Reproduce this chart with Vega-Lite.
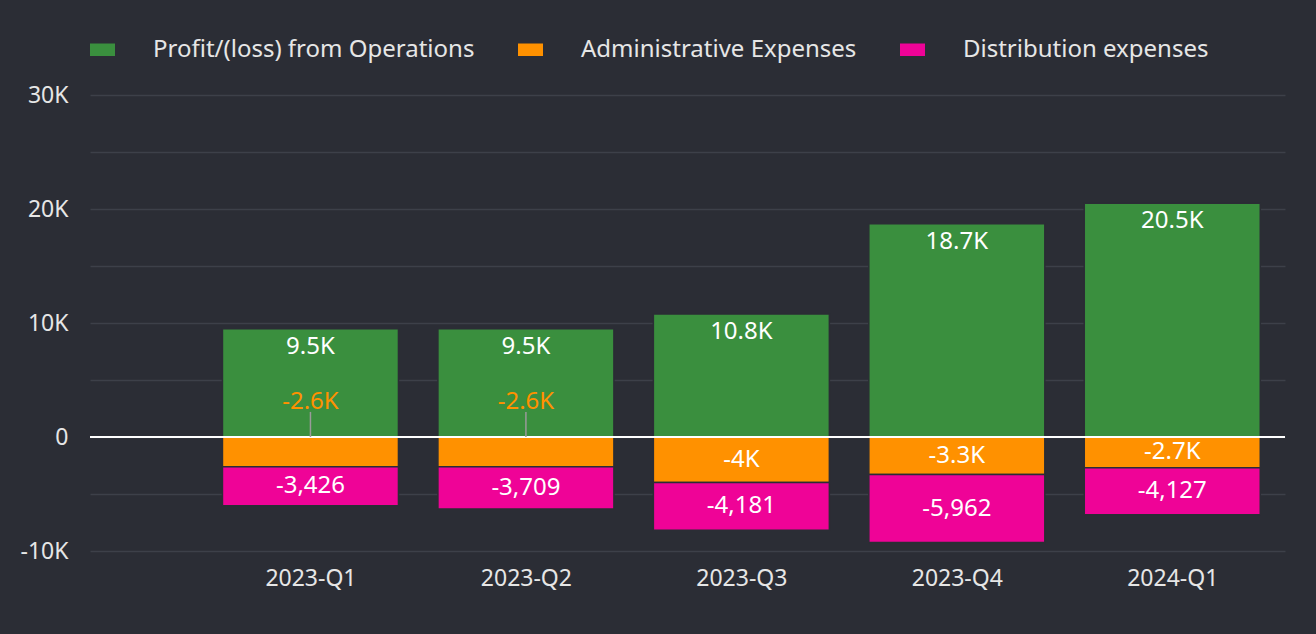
{
  "$schema": "https://vega.github.io/schema/vega-lite/v6.json",
  "width": 1195,
  "height": 456,
  "autosize": "none",
  "padding": {"left": 90, "top": 95, "right": 31, "bottom": 83},
  "background": "#2b2d35",
  "title": {"text": "finstatinsight.com", "orient": "bottom", "anchor": "end", "color": "#b8b8b8", "fontSize": 18, "fontWeight": "normal", "font": "Noto Sans", "offset": 58, "dx": 31},
  "config": {
    "view": {"stroke": null},
    "font": "Noto Sans",
    "axis": {"labelFont": "Noto Sans", "labelColor": "#e6e6e6", "labelFontSize": 23, "domain": false, "ticks": false, "title": null},
    "legend": {"labelFont": "Noto Sans"}
  },
  "data": {
    "values": [
      {"q": "2023-Q1", "i": 1, "series": "Profit/(loss) from Operations", "o": 1, "value": 9500, "label": "9.5K"},
      {"q": "2023-Q1", "i": 1, "series": "Administrative Expenses", "o": 2, "value": -2600, "label": "-2.6K"},
      {"q": "2023-Q1", "i": 1, "series": "Distribution expenses", "o": 3, "value": -3426, "label": "-3,426"},
      {"q": "2023-Q2", "i": 2, "series": "Profit/(loss) from Operations", "o": 1, "value": 9500, "label": "9.5K"},
      {"q": "2023-Q2", "i": 2, "series": "Administrative Expenses", "o": 2, "value": -2600, "label": "-2.6K"},
      {"q": "2023-Q2", "i": 2, "series": "Distribution expenses", "o": 3, "value": -3709, "label": "-3,709"},
      {"q": "2023-Q3", "i": 3, "series": "Profit/(loss) from Operations", "o": 1, "value": 10800, "label": "10.8K"},
      {"q": "2023-Q3", "i": 3, "series": "Administrative Expenses", "o": 2, "value": -4000, "label": "-4K"},
      {"q": "2023-Q3", "i": 3, "series": "Distribution expenses", "o": 3, "value": -4181, "label": "-4,181"},
      {"q": "2023-Q4", "i": 4, "series": "Profit/(loss) from Operations", "o": 1, "value": 18700, "label": "18.7K"},
      {"q": "2023-Q4", "i": 4, "series": "Administrative Expenses", "o": 2, "value": -3300, "label": "-3.3K"},
      {"q": "2023-Q4", "i": 4, "series": "Distribution expenses", "o": 3, "value": -5962, "label": "-5,962"},
      {"q": "2024-Q1", "i": 5, "series": "Profit/(loss) from Operations", "o": 1, "value": 20500, "label": "20.5K"},
      {"q": "2024-Q1", "i": 5, "series": "Administrative Expenses", "o": 2, "value": -2700, "label": "-2.7K"},
      {"q": "2024-Q1", "i": 5, "series": "Distribution expenses", "o": 3, "value": -4127, "label": "-4,127"}
    ]
  },
  "transform": [
    {"stack": "value", "groupby": ["q"], "sort": [{"field": "o"}], "as": ["y0", "y1"]},
    {"calculate": "(datum.y0 + datum.y1) / 2", "as": "mid"},
    {"calculate": "(datum.q == '2023-Q1' || datum.q == '2023-Q2') && datum.o == 2", "as": "outside"}
  ],
  "encoding": {
    "x": {
      "field": "i", "type": "quantitative",
      "scale": {"domain": [0, 5.5], "nice": false, "zero": false},
      "axis": {"values": [1, 2, 3, 4, 5], "grid": false, "labelPadding": 16, "labelExpr": "['', '2023-Q1', '2023-Q2', '2023-Q3', '2023-Q4', '2024-Q1'][datum.value]"}
    }
  },
  "layer": [
    {
      "mark": {"type": "bar", "size": 176, "stroke": "#2b2d35", "strokeWidth": 1.5},
      "encoding": {
        "y": {
          "field": "y0", "type": "quantitative",
          "scale": {"domain": [-10000, 30000], "nice": false},
          "axis": {"values": [-10000, -5000, 0, 5000, 10000, 15000, 20000, 25000, 30000], "gridColor": "#3d4049", "gridWidth": 1.5, "labelPadding": 22, "labelExpr": "datum.value % 10000 != 0 ? '' : (datum.value == 0 ? '0' : (datum.value / 1000) + 'K')"}
        },
        "y2": {"field": "y1"},
        "color": {
          "field": "series", "type": "nominal",
          "scale": {"domain": ["Profit/(loss) from Operations", "Administrative Expenses", "Distribution expenses"], "range": ["#3a8f3e", "#ff9100", "#ef0397"]},
          "legend": {"title": null, "orient": "none", "legendX": 0, "legendY": -58, "direction": "horizontal", "symbolType": "M-1,-0.5H1V0.5H-1Z", "symbolSize": 625, "symbolStrokeWidth": 0, "symbolOpacity": 1, "labelFontSize": 24, "labelColor": "#e6e6e6", "columnPadding": 43, "labelOffset": 38, "labelLimit": 400}
        }
      }
    },
    {
      "mark": {"type": "rule", "color": "#ffffff", "strokeWidth": 2},
      "encoding": {"y": {"datum": 0}, "x": null}
    },
    {
      "transform": [{"filter": "datum.outside"}],
      "mark": {"type": "rule", "color": "#9a9a9a", "strokeWidth": 1.5},
      "encoding": {"y": {"datum": 0}, "y2": {"datum": 2200}}
    },
    {
      "transform": [{"filter": "datum.o == 1"}],
      "mark": {"type": "text", "color": "#ffffff", "fontSize": 24, "baseline": "top", "dy": 6},
      "encoding": {"y": {"field": "y1", "type": "quantitative"}, "text": {"field": "label"}}
    },
    {
      "transform": [{"filter": "datum.o != 1 && !datum.outside"}],
      "mark": {"type": "text", "color": "#ffffff", "fontSize": 24, "baseline": "middle"},
      "encoding": {"y": {"field": "mid", "type": "quantitative"}, "text": {"field": "label"}}
    },
    {
      "transform": [{"filter": "datum.outside"}],
      "mark": {"type": "text", "color": "#ff9100", "fontSize": 24, "baseline": "middle"},
      "encoding": {"y": {"datum": 3100}, "text": {"field": "label"}}
    }
  ]
}
